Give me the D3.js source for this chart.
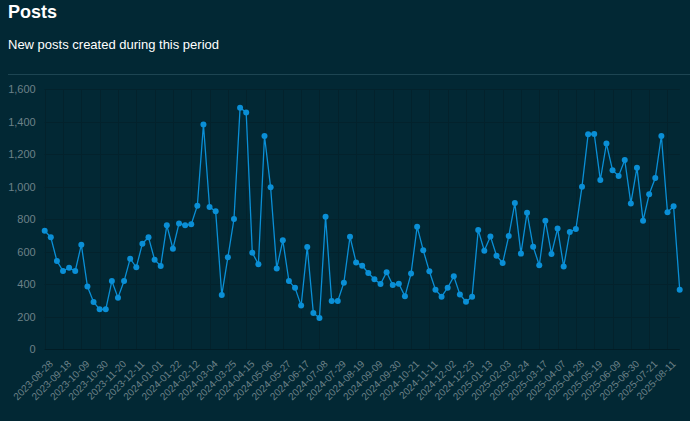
<!DOCTYPE html>
<html>
<head>
<meta charset="utf-8">
<script src="https://cdn.jsdelivr.net/npm/d3@7"></script>
<style>
  html, body { margin: 0; padding: 0; background: #022834; }
  body { width: 690px; height: 421px; overflow: hidden; font-family: "Liberation Sans", Arial, sans-serif; }
</style>
</head>
<body>
<div id="vis"></div>
<script>
const width = 690;
const height = 421;
const margin = { top: 89, right: 10, bottom: 72, left: 44.7 };

const title = "Posts";
const subtitle = "New posts created during this period";

// weekly buckets, starting 2023-08-28
const startDate = "2023-08-28";
const postCounts = [
    728, 687, 542, 480, 500, 480, 642, 384, 289, 244,
    244, 418, 316, 418, 556, 503, 648, 687, 550, 511,
    761, 617, 773, 761, 767, 882, 1381, 874, 847, 332,
    564, 800, 1485, 1456, 593, 521, 1311, 995, 496, 669,
    418, 377, 267, 628, 222, 191, 814, 295, 295, 408,
    691, 533, 513, 468, 429, 400, 472, 394, 402, 324,
    464, 753, 607, 478, 365, 322, 377, 447, 336, 291,
    322, 732, 605, 693, 574, 529, 695, 898, 587, 839,
    630, 515, 790, 585, 741, 507, 720, 738, 999, 1321,
    1323, 1040, 1264, 1100, 1065, 1163, 896, 1116, 790, 952,
    1052, 1311, 841, 878, 365
];
const yTicks = [0, 200, 400, 600, 800, 1000, 1200, 1400, 1600];

const parseDate = d3.timeParse("%Y-%m-%d");
const fmtDate = d3.timeFormat("%Y-%m-%d");
const weeks = postCounts.map((_, i) => fmtDate(d3.timeWeek.offset(parseDate(startDate), i)));
const data = weeks.map((w, i) => ({ week: w, count: postCounts[i] }));
const labelWeeks = weeks.filter((_, i) => i % 3 === 0);

const svg = d3.select("#vis")
    .append("svg")
    .attr("width", width)
    .attr("height", height);

svg.append("text")
    .attr("x", 8)
    .attr("y", 18)
    .style("font-size", "18px")
    .style("font-weight", "bold")
    .style("fill", "#ffffff")
    .text(title);

svg.append("text")
    .attr("x", 8)
    .attr("y", 49)
    .style("font-size", "13px")
    .style("fill", "#ffffff")
    .text(subtitle);

svg.append("line")
    .attr("x1", 8)
    .attr("x2", width)
    .attr("y1", 74.5)
    .attr("y2", 74.5)
    .style("stroke", "#1d4552")
    .style("stroke-width", 1);

const x = d3.scalePoint()
    .domain(weeks)
    .range([margin.left, margin.left + 635]);

const y = d3.scaleLinear()
    .domain([0, 1600])
    .range([349, margin.top]);

// grid
const grid = svg.append("g").attr("class", "grid");
grid.selectAll(".hgrid")
    .data(yTicks)
    .enter()
    .append("line")
    .attr("x1", x.range()[0])
    .attr("x2", x.range()[1])
    .attr("y1", d => Math.round(y(d)) + 0.5)
    .attr("y2", d => Math.round(y(d)) + 0.5)
    .style("stroke", d => d === 0 ? "#011c25" : "#03222c")
    .style("stroke-width", 1);

grid.selectAll(".vgrid")
    .data(labelWeeks)
    .enter()
    .append("line")
    .attr("x1", d => Math.round(x(d)) + 0.5)
    .attr("x2", d => Math.round(x(d)) + 0.5)
    .attr("y1", y(1600))
    .attr("y2", y(0))
    .style("stroke", "#03222c")
    .style("stroke-width", 1);

// y axis labels
const yAxis = d3.axisLeft(y)
    .tickValues(yTicks)
    .tickSize(0)
    .tickPadding(9)
    .tickFormat(d3.format(","));

const yAxisGroup = svg.append("g")
    .attr("transform", `translate(${margin.left},0)`)
    .call(yAxis);
yAxisGroup.select(".domain").remove();
yAxisGroup.selectAll("text")
    .style("font-size", "11px")
    .style("font-family", "Liberation Sans, Arial, sans-serif")
    .style("fill", "#6c8188");

// x axis labels
const xAxis = d3.axisBottom(x)
    .tickValues(labelWeeks)
    .tickSize(0);

const xAxisGroup = svg.append("g")
    .attr("transform", `translate(0,${y(0)})`)
    .call(xAxis);
xAxisGroup.select(".domain").remove();
xAxisGroup.selectAll("text")
    .attr("y", 0)
    .attr("dy", "0.35em")
    .attr("transform", "translate(6,13) rotate(-45)")
    .style("text-anchor", "end")
    .style("font-size", "10px")
    .style("font-family", "Liberation Sans, Arial, sans-serif")
    .style("fill", "#6c8188");

const line = d3.line()
    .x(d => x(d.week))
    .y(d => y(d.count));

svg.append("path")
    .datum(data)
    .attr("d", line)
    .style("fill", "none")
    .style("stroke", "#0a8fd6")
    .style("stroke-width", 1.3);

svg.selectAll(".dot")
    .data(data)
    .enter()
    .append("circle")
    .attr("class", "dot")
    .attr("cx", d => x(d.week))
    .attr("cy", d => y(d.count))
    .attr("r", 3)
    .style("fill", "#0a8fd6");
</script>
</body>
</html>
